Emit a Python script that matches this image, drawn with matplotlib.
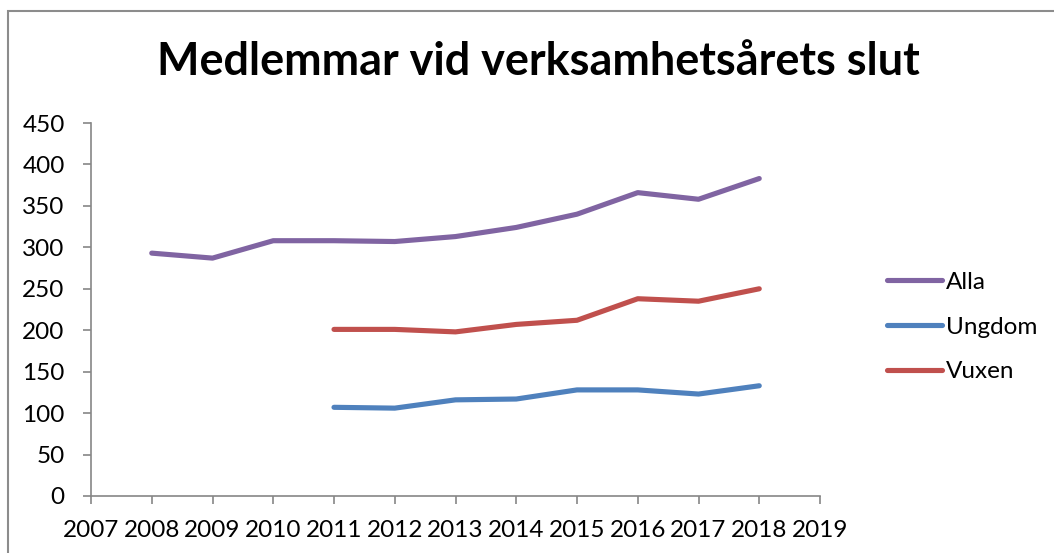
import matplotlib.pyplot as plt
from matplotlib.patches import Rectangle

years_alla = [2008, 2009, 2010, 2011, 2012, 2013, 2014, 2015, 2016, 2017, 2018]
alla = [293, 287, 308, 308, 307, 313, 324, 340, 366, 358, 383]

years_sub = [2011, 2012, 2013, 2014, 2015, 2016, 2017, 2018]
ungdom = [107, 106, 116, 117, 128, 128, 123, 133]
vuxen = [201, 201, 198, 207, 212, 238, 235, 250]

xticks = list(range(2007, 2020))
yticks = list(range(0, 451, 50))

plt.rcParams['font.family'] = ['Lato', 'DejaVu Sans']
grey = '#868686'
fs = 17.5

fig = plt.figure(figsize=(10.54, 5.53), dpi=100)
ax = fig.add_axes([91/1054, 1 - 496/553, 729/1054, 373/553])

ax.plot(years_alla, alla, color='#8064A2', lw=3.7, label='Alla', solid_capstyle='round')
ax.plot(years_sub, ungdom, color='#4F81BD', lw=3.7, label='Ungdom', solid_capstyle='round')
ax.plot(years_sub, vuxen, color='#C0504D', lw=3.7, label='Vuxen', solid_capstyle='round')

ax.set_xlim(2007, 2019)
ax.set_ylim(0, 450)
ax.set_xticks(xticks)
ax.set_yticks(yticks)
ax.tick_params(axis='both', colors=grey, labelcolor='black', labelsize=fs,
               length=6, width=1.2)
ax.tick_params(axis='y', pad=13)
ax.tick_params(axis='x', pad=11)
for s in ['top', 'right']:
    ax.spines[s].set_visible(False)
for s in ['left', 'bottom']:
    ax.spines[s].set_color(grey)
    ax.spines[s].set_linewidth(1.2)

fig.text(538/1054, 1 - 62/553, 'Medlemmar vid verksamhetsårets slut',
         ha='center', va='center', fontsize=32.4, fontweight='bold')

ax.legend(loc='center left', bbox_to_anchor=(887/1054, 1 - 327/553),
          bbox_transform=fig.transFigure, frameon=False, fontsize=fs,
          handlelength=2.26, handletextpad=0.16, labelspacing=0.98,
          borderpad=0, borderaxespad=0)

fig.patches.append(Rectangle((8/1054, -0.1), 1.2, 0.1 + 1 - 11/553,
                             transform=fig.transFigure, fill=False,
                             edgecolor='#8c8c8c', lw=1.5))

fig.savefig('out.png', dpi=100)
